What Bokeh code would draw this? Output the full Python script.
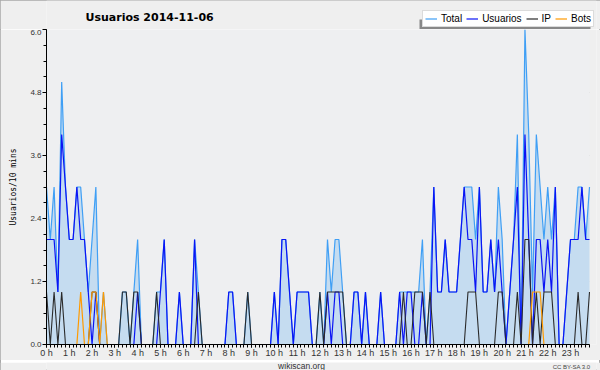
from bokeh.plotting import figure
from bokeh.layouts import column
from bokeh.models import (Range1d, FixedTicker, PrintfTickFormatter, Legend, LegendItem,
                          BoxAnnotation, ColumnDataSource)
from bokeh.core.properties import value
from bokeh.embed import file_html
from bokeh.resources import INLINE

# ---- data: one value per 10-minute slot (144 slots) ----
slot = list(range(144))

total = [3, 2, 3, 1, 5, 3, 2, 2, 3, 3,
         2, 1, 2, 3, 0, 1, 0, 0, 0, 0,
         1, 1, 0, 1, 2, 0, 0, 0, 0, 1,
         1, 2, 0, 0, 0, 1, 0, 0, 0, 2,
         1, 0, 0, 0, 0, 0, 0, 0, 1, 1,
         0, 0, 0, 1, 0, 0, 0, 0, 0, 0,
         1, 0, 2, 2, 1, 0, 1, 1, 1, 1,
         0, 0, 1, 0, 2, 1, 2, 2, 1, 0,
         0, 1, 1, 0, 1, 0, 0, 0, 1, 0,
         0, 0, 0, 1, 1, 1, 1, 1, 1, 2,
         0, 1, 3, 1, 1, 2, 1, 1, 1, 2,
         3, 3, 3, 2, 3, 1, 1, 2, 1, 3,
         2, 0, 1, 2, 4, 0, 6, 4, 1, 4,
         3, 2, 3, 2, 3, 0, 0, 1, 2, 2,
         3, 3, 2, 3]

usuarios = [2, 2, 2, 1, 4, 3, 2, 2, 3, 2,
            2, 1, 0, 1, 0, 0, 0, 0, 0, 0,
            0, 0, 0, 0, 1, 0, 0, 0, 0, 0,
            1, 2, 0, 0, 0, 1, 0, 0, 0, 2,
            0, 0, 0, 0, 0, 0, 0, 0, 1, 1,
            0, 0, 0, 0, 0, 0, 0, 0, 0, 0,
            1, 0, 2, 2, 1, 0, 1, 1, 1, 1,
            0, 0, 0, 0, 1, 0, 1, 1, 0, 0,
            0, 1, 1, 0, 1, 0, 0, 0, 1, 0,
            0, 0, 0, 1, 0, 1, 1, 0, 0, 1,
            0, 0, 3, 1, 1, 2, 1, 1, 1, 2,
            3, 2, 2, 1, 3, 1, 1, 2, 1, 2,
            1, 0, 1, 2, 3, 0, 4, 2, 0, 2,
            2, 1, 2, 1, 3, 0, 0, 1, 2, 2,
            2, 3, 2, 2]

ip = [1, 0, 1, 0, 1, 0, 0, 0, 0, 0,
      0, 0, 1, 1, 0, 0, 0, 0, 0, 0,
      1, 1, 0, 1, 1, 0, 0, 0, 0, 1,
      0, 0, 0, 0, 0, 0, 0, 0, 0, 0,
      1, 0, 0, 0, 0, 0, 0, 0, 0, 0,
      0, 0, 0, 1, 0, 0, 0, 0, 0, 0,
      0, 0, 0, 0, 0, 0, 0, 0, 0, 0,
      0, 0, 1, 0, 1, 1, 1, 1, 1, 0,
      0, 0, 0, 0, 0, 0, 0, 0, 0, 0,
      0, 0, 0, 0, 1, 0, 0, 1, 1, 1,
      0, 1, 0, 0, 0, 0, 0, 0, 0, 0,
      0, 1, 1, 1, 0, 0, 0, 0, 0, 1,
      1, 0, 0, 0, 1, 0, 2, 2, 0, 1,
      0, 1, 1, 1, 0, 0, 0, 0, 0, 0,
      1, 0, 0, 1]

bots = [0, 0, 0, 0, 0, 0, 0, 0, 0, 1,
        0, 0, 1, 1, 0, 1, 0, 0, 0, 0,
        0, 0, 0, 0, 0, 0, 0, 0, 0, 0,
        0, 0, 0, 0, 0, 0, 0, 0, 0, 0,
        0, 0, 0, 0, 0, 0, 0, 0, 0, 0,
        0, 0, 0, 0, 0, 0, 0, 0, 0, 0,
        0, 0, 0, 0, 0, 0, 0, 0, 0, 0,
        0, 0, 0, 0, 0, 0, 0, 0, 0, 0,
        0, 0, 0, 0, 0, 0, 0, 0, 0, 0,
        0, 0, 0, 0, 0, 0, 0, 0, 0, 0,
        0, 0, 0, 0, 0, 0, 0, 0, 0, 0,
        0, 0, 0, 0, 0, 0, 0, 0, 0, 0,
        0, 0, 0, 0, 0, 0, 0, 0, 1, 1,
        1, 0, 0, 0, 0, 0, 0, 0, 0, 0,
        0, 0, 0, 0]

hour_labels = ["0 h", "1 h", "2 h", "3 h", "4 h", "5 h", "6 h", "7 h", "8 h", "9 h",
               "10 h", "11 h", "12 h", "13 h", "14 h", "15 h", "16 h", "17 h", "18 h",
               "19 h", "20 h", "21 h", "22 h", "23 h"]
y_ticks = [0.0, 1.2, 2.4, 3.6, 4.8, 6.0]
series_names = ["Total", "Usuarios", "IP", "Bots"]
series_colors = ["#3f9ff5", "#0a14f5", "#2a2a2a", "#ff9a00"]

OUTER = "#efefef"
FRAME = "#eeeff1"
HEAD_H, MAIN_H, FOOT_H = 29, 331, 10
# shared frame (pixels): all three figures get their frames aligned by the column
F_LEFT, F_RIGHT = 46, 596
DATA_RIGHT_PX = 589          # where the last slot is drawn
X_END = (len(slot) - 1) * (F_RIGHT - F_LEFT) / (DATA_RIGHT_PX - F_LEFT)


def bare(h):
    f = figure(width=600, height=h, output_backend="svg", toolbar_location=None,
               x_range=Range1d(F_LEFT, F_RIGHT), y_range=Range1d(0, h), title=None,
               x_axis_location=None, y_axis_location=None,
               min_border_left=F_LEFT, min_border_right=600 - F_RIGHT,
               min_border_top=0, min_border_bottom=0)
    f.grid.visible = False
    f.outline_line_color = None
    f.border_fill_color = OUTER
    f.background_fill_color = OUTER
    return f


# ---------------- header: title + legend ----------------
head = bare(HEAD_H)
head.text(x=[85], y=[HEAD_H - 17], text=["Usuarios  2014-11-06"], text_font=value("DejaVu Sans"),
          text_font_size="11px", text_font_style="bold", text_color="#000000",
          text_align="left", text_baseline="middle")

nan = float("nan")
dummy = [head.line(x=[nan], y=[nan], line_color=c, line_width=1.2) for c in series_colors]

head.add_layout(BoxAnnotation(left=419 - F_LEFT, right=590 - F_LEFT, bottom=0, top=10,
                              left_units="screen", right_units="screen",
                              top_units="screen", bottom_units="screen",
                              fill_color="#888888", fill_alpha=1, line_color=None))
legend = Legend(items=[LegendItem(label=n, renderers=[r]) for n, r in zip(series_names, dummy)],
                orientation="horizontal", location=(422 - F_LEFT, 2),
                background_fill_color="#ffffff", background_fill_alpha=1,
                border_line_color="#b8b8b8", border_line_width=1,
                label_text_font="Liberation Sans", label_text_font_size="10px",
                label_text_color="#000000",
                glyph_width=12, glyph_height=11, label_height=11, label_width=0,
                label_standoff=4, spacing=4, padding=2, margin=0)
head.add_layout(legend)

# ---------------- main chart ----------------
src = ColumnDataSource(dict(x=slot, total=total, usuarios=usuarios, ip=ip, bots=bots))

p = figure(width=600, height=MAIN_H, output_backend="svg", toolbar_location=None,
           x_range=Range1d(0, X_END), y_range=Range1d(0, 6.0), title=None,
           min_border_left=F_LEFT, min_border_right=600 - F_RIGHT,
           min_border_top=0, min_border_bottom=16)
p.border_fill_color = OUTER
p.background_fill_color = OUTER
p.outline_line_color = None

# plot area background (data area only)
p.add_layout(BoxAnnotation(left=0, right=len(slot) - 1, bottom=0, top=6.0,
                           fill_color=FRAME, fill_alpha=1, line_color=None, level="underlay"))

p.varea(x="x", y1=0, y2="total", source=src, fill_color="#c5dcf0", fill_alpha=1)
r_total = p.line("x", "total", source=src, line_color=series_colors[0], line_width=1.2)
r_users = p.line("x", "usuarios", source=src, line_color=series_colors[1], line_width=1.2)
r_ip = p.line("x", "ip", source=src, line_color=series_colors[2], line_width=1.1)
r_bots = p.line("x", "bots", source=src, line_color=series_colors[3], line_width=1.2)

xt = FixedTicker(ticks=[6 * h for h in range(24)], minor_ticks=slot)
p.xaxis.ticker = xt
p.xaxis.bounds = (0, len(slot) - 1)
p.xaxis.major_label_overrides = {6 * h: lab for h, lab in enumerate(hour_labels)}
p.xaxis.major_label_text_font = "Liberation Sans"
p.xaxis.major_label_text_font_size = "9px"
p.xaxis.major_label_text_color = "#333333"
p.xaxis.major_label_standoff = 0
p.xaxis.axis_line_color = "#000000"
p.xaxis.major_tick_line_color = "#000000"
p.xaxis.minor_tick_line_color = "#000000"
p.xaxis.major_tick_out = 3
p.xaxis.major_tick_in = 0
p.xaxis.minor_tick_out = 3
p.xaxis.minor_tick_in = 0

yt = FixedTicker(ticks=y_ticks, minor_ticks=[0.3 * k for k in range(21)])
p.yaxis.ticker = yt
p.yaxis.formatter = PrintfTickFormatter(format="%.1f")
p.yaxis.major_label_text_font = "Liberation Sans"
p.yaxis.major_label_text_font_size = "8px"
p.yaxis.major_label_text_color = "#333333"
p.yaxis.major_label_standoff = 1
p.yaxis.axis_line_color = "#000000"
p.yaxis.major_tick_line_color = "#000000"
p.yaxis.minor_tick_line_color = "#000000"
p.yaxis.major_tick_out = 4
p.yaxis.major_tick_in = 0
p.yaxis.minor_tick_out = 3
p.yaxis.minor_tick_in = 0
p.yaxis.axis_label = "Usuarios/10 mins"
p.yaxis.axis_label_text_font = "DejaVu Sans Mono"
p.yaxis.axis_label_text_font_size = "8px"
p.yaxis.axis_label_text_font_style = "normal"
p.yaxis.axis_label_text_color = "#000000"
p.yaxis.axis_label_standoff = 9

p.xgrid.visible = False
p.ygrid.ticker = yt
p.ygrid.grid_line_color = "#c9c9c9"
p.ygrid.grid_line_width = 1
try:
    p.ygrid.cross_bounds = (0, len(slot) - 1)
except Exception:
    pass

# ---------------- footer ----------------
foot = bare(FOOT_H)
foot.text(x=[301], y=[6.5], text=["wikiscan.org"], text_font=value("Liberation Sans"),
          text_font_size="8.5px", text_color="#333333", text_align="center",
          text_baseline="middle")
foot.text(x=[590], y=[6], text=["CC BY-SA 3.0"], text_font=value("Liberation Sans"),
          text_font_size="6px", text_color="#444444", text_align="right",
          text_baseline="middle")

layout = column(head, p, foot, spacing=0)
layout.styles = {"outline": "1px solid #a8a8a8", "outline-offset": "-1px"}

open("out.html", "w").write(file_html(layout, INLINE))
